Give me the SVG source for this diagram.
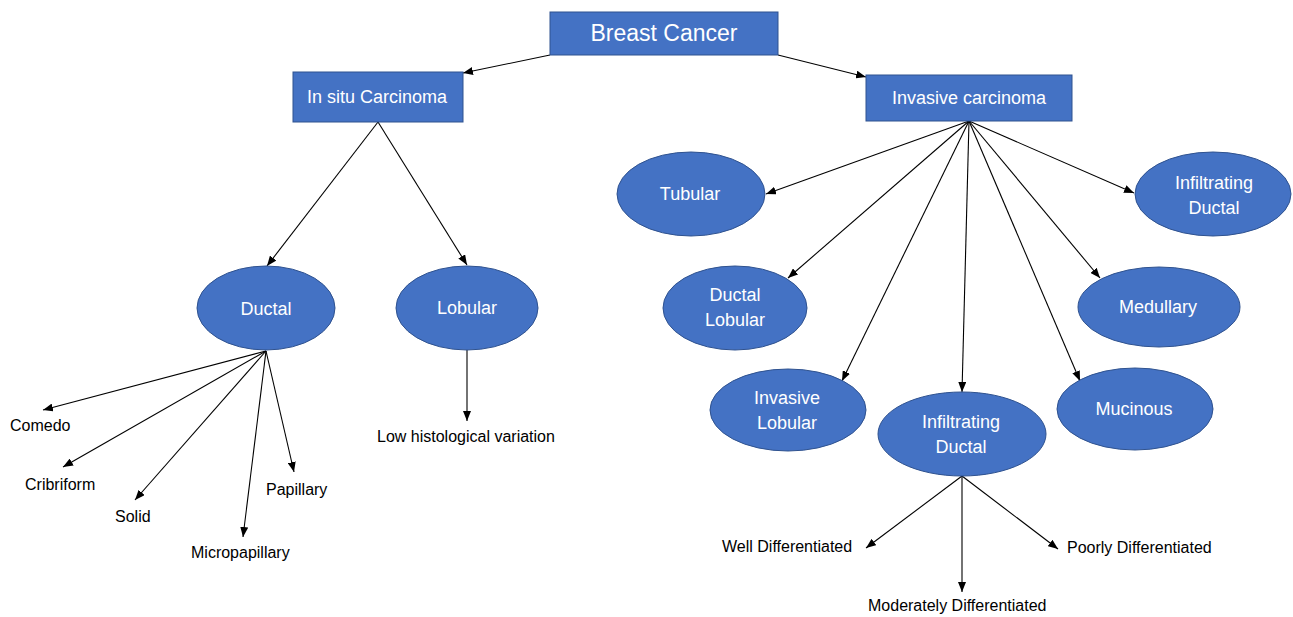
<svg xmlns="http://www.w3.org/2000/svg" width="1293" height="617" viewBox="0 0 1293 617">
<style>
.box{fill:#4472C4;stroke:#2F528F;stroke-width:1}
.lt{font-family:"Liberation Sans",Arial,sans-serif;fill:#ffffff;text-anchor:middle}
.dt{font-family:"Liberation Sans",Arial,sans-serif;fill:#000000;font-size:16px}
.c{stroke:#000;stroke-width:1.1;fill:none;marker-end:url(#ah)}
</style>
<defs>
<marker id="ah" viewBox="0 0 10 8" markerWidth="10" markerHeight="8" refX="10" refY="4" orient="auto" markerUnits="userSpaceOnUse">
<path d="M0,0 L10,4 L0,8 z" fill="#000"/>
</marker>
</defs>
<rect width="1293" height="617" fill="#ffffff"/>
<g id="connectors">
<line class="c" x1="550" y1="55" x2="463" y2="73"/>
<line class="c" x1="778" y1="55" x2="866" y2="77"/>
<line class="c" x1="378" y1="122" x2="267" y2="266"/>
<line class="c" x1="378" y1="122" x2="467" y2="265"/>
<line class="c" x1="467" y1="350" x2="467" y2="421"/>
<line class="c" x1="266" y1="351" x2="43" y2="410"/>
<line class="c" x1="266" y1="351" x2="63" y2="467"/>
<line class="c" x1="266" y1="351" x2="135" y2="500"/>
<line class="c" x1="266" y1="351" x2="243" y2="537"/>
<line class="c" x1="266" y1="351" x2="294" y2="472"/>
<line class="c" x1="969" y1="121" x2="766" y2="194"/>
<line class="c" x1="969" y1="121" x2="788" y2="278"/>
<line class="c" x1="969" y1="121" x2="842" y2="381"/>
<line class="c" x1="969" y1="121" x2="962" y2="392"/>
<line class="c" x1="969" y1="121" x2="1080" y2="381"/>
<line class="c" x1="969" y1="121" x2="1100" y2="278"/>
<line class="c" x1="969" y1="121" x2="1134" y2="193"/>
<line class="c" x1="962" y1="476" x2="866" y2="548"/>
<line class="c" x1="962" y1="476" x2="962" y2="592"/>
<line class="c" x1="962" y1="476" x2="1058" y2="549"/>
</g>
<g id="breast-cancer">
<rect class="box" x="550" y="12" width="228" height="43"/>
<text class="lt" x="664" y="41" font-size="23">Breast Cancer</text>
</g>
<g id="in-situ">
<rect class="box" x="293" y="72" width="170" height="50"/>
<text class="lt" x="377" y="103" font-size="18">In situ Carcinoma</text>
</g>
<g id="invasive">
<rect class="box" x="866" y="75" width="206" height="46"/>
<text class="lt" x="969" y="104" font-size="18">Invasive carcinoma</text>
</g>
<g id="ductal">
<ellipse class="box" cx="266" cy="308" rx="69" ry="42"/>
<text class="lt" x="266" y="315" font-size="18">Ductal</text>
</g>
<g id="lobular">
<ellipse class="box" cx="467" cy="308" rx="71" ry="42"/>
<text class="lt" x="467" y="314" font-size="18">Lobular</text>
</g>
<g id="tubular">
<ellipse class="box" cx="691" cy="194" rx="74" ry="42"/>
<text class="lt" x="690" y="200" font-size="18">Tubular</text>
</g>
<g id="ductal-lobular">
<ellipse class="box" cx="735" cy="308" rx="72" ry="42"/>
<text class="lt" x="735" y="301" font-size="18">Ductal</text>
<text class="lt" x="735" y="326" font-size="18">Lobular</text>
</g>
<g id="invasive-lobular">
<ellipse class="box" cx="788" cy="410" rx="78" ry="41"/>
<text class="lt" x="787" y="404" font-size="18">Invasive</text>
<text class="lt" x="787" y="429" font-size="18">Lobular</text>
</g>
<g id="infiltrating-ductal-bottom">
<ellipse class="box" cx="962" cy="434" rx="84" ry="42"/>
<text class="lt" x="961" y="428" font-size="18">Infiltrating</text>
<text class="lt" x="961" y="453" font-size="18">Ductal</text>
</g>
<g id="mucinous">
<ellipse class="box" cx="1135" cy="409" rx="78" ry="41"/>
<text class="lt" x="1134" y="415" font-size="18">Mucinous</text>
</g>
<g id="medullary">
<ellipse class="box" cx="1159" cy="307" rx="81" ry="40"/>
<text class="lt" x="1158" y="313" font-size="18">Medullary</text>
</g>
<g id="infiltrating-ductal-right">
<ellipse class="box" cx="1213" cy="194" rx="78" ry="42"/>
<text class="lt" x="1214" y="189" font-size="18">Infiltrating</text>
<text class="lt" x="1214" y="214" font-size="18">Ductal</text>
</g>
<g id="labels">
<text class="dt" x="10" y="431">Comedo</text>
<text class="dt" x="25" y="490">Cribriform</text>
<text class="dt" x="115" y="522">Solid</text>
<text class="dt" x="191" y="558">Micropapillary</text>
<text class="dt" x="266" y="495">Papillary</text>
<text class="dt" x="377" y="442">Low histological variation</text>
<text class="dt" x="722" y="552">Well Differentiated</text>
<text class="dt" x="868" y="611">Moderately Differentiated</text>
<text class="dt" x="1067" y="553">Poorly Differentiated</text>
</g>
</svg>
